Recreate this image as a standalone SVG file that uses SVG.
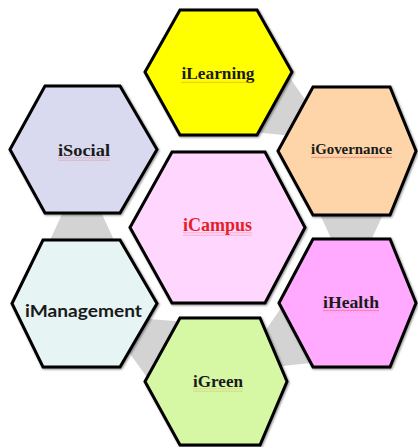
<svg xmlns="http://www.w3.org/2000/svg" width="418" height="447" viewBox="0 0 418 447">
<defs>
  <style>
    .hex { stroke: #000; stroke-width: 3; stroke-linejoin: miter; filter: url(#sh); }
    .lbl { font-family: "Liberation Serif", "Times New Roman", serif; font-weight: bold; font-size: 17px; fill: #1a1a1a; text-anchor: middle; }
    .conn { fill: #d3d3d3; }
  </style>
  <filter id="sh" x="-10%" y="-10%" width="120%" height="120%">
    <feGaussianBlur in="SourceAlpha" stdDeviation="1.2"/>
    <feOffset dx="0.5" dy="0.5" result="b"/>
    <feComponentTransfer><feFuncA type="linear" slope="0.45"/></feComponentTransfer>
    <feMerge><feMergeNode/><feMergeNode in="SourceGraphic"/></feMerge>
  </filter>
  <polygon id="trap" points="-30,-39.5 30,-11.9 30,11.9 -30,39.5"/>
  <pattern id="wr" width="3" height="3" patternUnits="userSpaceOnUse">
    <path d="M0,2 Q0.75,0.4 1.5,1.2 T3,2" fill="none" stroke="#e85050" stroke-width="0.6"/>
  </pattern>
  <pattern id="wo" width="3" height="3" patternUnits="userSpaceOnUse">
    <path d="M0,2 Q0.75,0.4 1.5,1.2 T3,2" fill="none" stroke="#d89030" stroke-width="0.6"/>
  </pattern>
</defs>
<rect width="418" height="447" fill="#ffffff"/>
<g id="connectors">
  <use href="#trap" class="conn" transform="translate(285,111.8) rotate(30.5)"/>
  <use href="#trap" class="conn" transform="translate(351.5,227) rotate(90)"/>
  <use href="#trap" class="conn" transform="translate(285.75,342.25) rotate(149.2)"/>
  <use href="#trap" class="conn" transform="translate(150.75,342.5) rotate(209.4)"/>
  <use href="#trap" class="conn" transform="translate(82,226.5) rotate(-90)"/>
</g>
<g id="iLearning">
  <polygon class="hex" fill="#ffff00" points="145,72 180,10 257,10 292,72 257,135 180,135"/>
  <text class="lbl" x="218" y="79" textLength="73" lengthAdjust="spacingAndGlyphs">iLearning</text>
  <rect x="181" y="80.5" width="73" height="3" fill="url(#wo)"/>
</g>
<g id="iSocial">
  <polygon class="hex" fill="#d9d9f0" points="10,149.5 45,86 120,86 157,149.5 120,213 45,213"/>
  <text class="lbl" x="84" y="156" textLength="52" lengthAdjust="spacingAndGlyphs">iSocial</text>
  <rect x="58" y="157.5" width="52" height="3" fill="url(#wr)"/>
</g>
<g id="iGovernance">
  <polygon class="hex" fill="#fdd5a9" points="278,151 313,87 390,87 416,151 390,215 313,215"/>
  <text class="lbl" x="351.5" y="154" style="font-size:15px" textLength="81" lengthAdjust="spacingAndGlyphs">iGovernance</text>
  <rect x="311" y="155.5" width="81" height="3" fill="url(#wr)"/>
</g>
<g id="iCampus">
  <polygon class="hex" fill="#ffd6fd" points="130,227.5 172,152 265,152 305,227.5 265,303 172,303"/>
  <text class="lbl" x="217.5" y="231" style="font-size:18px;fill:#e41e26" textLength="69" lengthAdjust="spacingAndGlyphs">iCampus</text>
  <rect x="183" y="232.5" width="69" height="3" fill="url(#wr)"/>
</g>
<g id="iManagement">
  <polygon class="hex" fill="#e6f4f4" points="12,303.5 43,240 120,240 157,303.5 120,367 43,367"/>
  <text x="83.5" y="317" style="font-family:Lato,'Liberation Sans',sans-serif;font-weight:bold;font-size:17px;fill:#1a1a1a;text-anchor:middle" textLength="117" lengthAdjust="spacingAndGlyphs">iManagement</text>
</g>
<g id="iHealth">
  <polygon class="hex" fill="#ffaaff" points="279,303 313,239 390,239 416,303 390,367 313,367"/>
  <text class="lbl" x="351" y="308" textLength="56" lengthAdjust="spacingAndGlyphs">iHealth</text>
  <rect x="323" y="309.5" width="56" height="3" fill="url(#wr)"/>
</g>
<g id="iGreen">
  <polygon class="hex" fill="#d6f7a3" points="145,381.5 180,318 260,318 287,381.5 260,445 180,445"/>
  <text class="lbl" x="218" y="387" textLength="50" lengthAdjust="spacingAndGlyphs">iGreen</text>
  <rect x="193" y="388.5" width="50" height="3" fill="url(#wo)"/>
</g>
</svg>
